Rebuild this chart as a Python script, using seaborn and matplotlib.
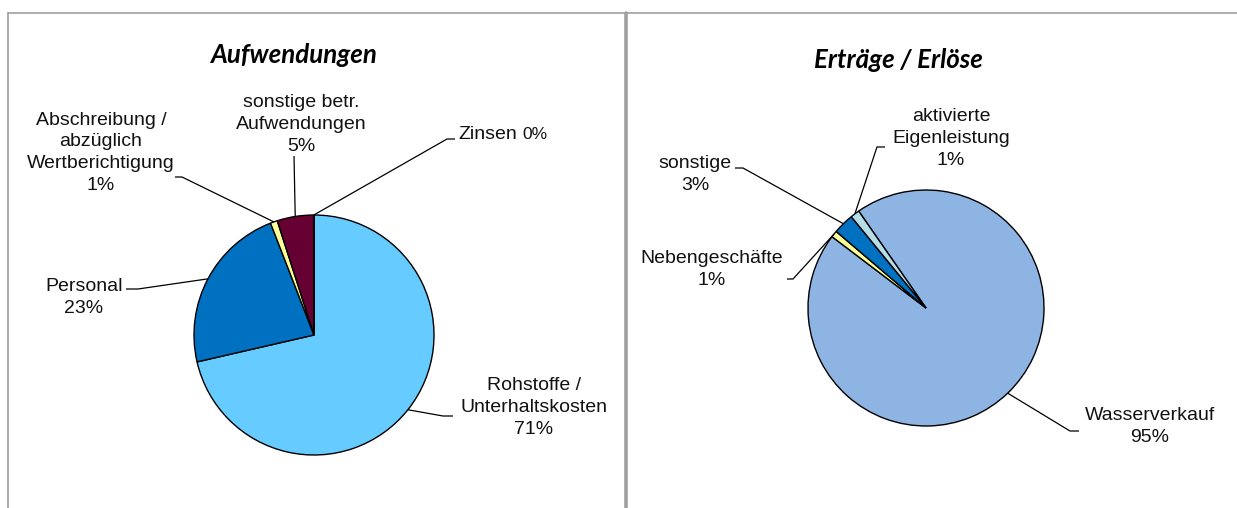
import matplotlib
matplotlib.use("Agg")
import matplotlib.pyplot as plt
import seaborn as sns
import numpy as np

# ---------------- data ----------------
aufw_labels = ["Rohstoffe /\nUnterhaltskosten", "Personal",
               "Abschreibung /\nabzüglich\nWertberichtigung",
               "sonstige betr.\nAufwendungen", "Zinsen"]
aufw_values = [71.4, 22.7, 0.95, 4.9, 0.05]
aufw_pct = ["71%", "23%", "1%", "5%", "0%"]
aufw_colors = ["#66CCFF", "#0070C0", "#FFFF99", "#660033", "#FF9900"]

ertr_labels = ["Wasserverkauf", "Nebengeschäfte", "sonstige",
               "aktivierte\nEigenleistung"]
ertr_values = [95.0, 0.9, 2.85, 1.25]
ertr_pct = ["95%", "1%", "3%", "1%"]
ertr_colors = ["#8EB4E3", "#FFFF99", "#0070C0", "#B7DEE8"]

titles = ["Aufwendungen", "Erträge / Erlöse"]

# ---------------- layout (pixel coords, y from top) ----------------
W, H = 1237, 508
sns.set_theme(style="white")
plt.rcParams['font.family'] = ['Liberation Sans', 'DejaVu Sans']

fig = plt.figure(figsize=(W / 100, H / 100), dpi=100)
ax = fig.add_axes([0, 0, 1, 1])

def Y(py):
    return H - py

LBL_FS = 14
LS = 1.37

# Pie 1
c1 = (314, 335); r1 = 120
w1, _ = ax.pie(aufw_values, colors=aufw_colors, startangle=90, counterclock=False,
               center=(c1[0], Y(c1[1])), radius=r1,
               wedgeprops=dict(edgecolor="black", linewidth=1.0))
# Pie 2
c2 = (926, 308); r2 = 118
w2, _ = ax.pie(ertr_values, colors=ertr_colors, startangle=124.8, counterclock=False,
               center=(c2[0], Y(c2[1])), radius=r2,
               wedgeprops=dict(edgecolor="black", linewidth=1.0))

# leader lines: elbow, end ; label positions (x centre, baseline of last line)
lay1 = [((443, 416), (453, 416), (534, 434)),
        ((138, 289), (126, 289), (84, 313)),
        ((182, 177), (175, 177), (101, 190)),
        ((294, 156), (294, 156), (301, 151)),
        ((447, 139), (455, 139), None)]
lay2 = [((1070, 431), (1079, 431), (1150, 442)),
        ((793, 279), (787, 279), (712, 285)),
        ((743, 168), (735, 168), (695, 190)),
        ((877, 147), (885, 147), (951, 165))]

def anchor(w):
    ang = np.deg2rad((w.theta1 + w.theta2) / 2)
    return w.center[0] + w.r * np.cos(ang), w.center[1] + w.r * np.sin(ang)

def draw_labels(wedges, labels, pcts, lay):
    for w, lab, pct, (elb, end, pos) in zip(wedges, labels, pcts, lay):
        ax_, ay_ = anchor(w)
        ax.plot([ax_, elb[0], end[0]], [ay_, Y(elb[1]), Y(end[1])],
                color="black", lw=0.9, solid_capstyle="butt")
        if pos is not None:
            ax.text(pos[0], Y(pos[1]), lab + "\n" + pct, ha="center", va="baseline",
                    fontsize=LBL_FS, color="#111111", linespacing=LS,
                    multialignment="center")

draw_labels(w1, aufw_labels, aufw_pct, lay1)
draw_labels(w2, ertr_labels, ertr_pct, lay2)
# Zinsen label (percentage slightly smaller)
ax.text(458, Y(139), aufw_labels[4], ha="left", va="baseline", fontsize=LBL_FS, color="#111111")
ax.text(522, Y(139), aufw_pct[4], ha="left", va="baseline", fontsize=12.5, color="#111111")

# titles
tfont = dict(family=['Lato', 'DejaVu Sans'], fontweight="bold", fontstyle="italic",
             fontsize=18.6, color="black", ha="center", va="baseline")
ax.text(293, Y(63), titles[0], **tfont)
ax.text(898, Y(68), titles[1], **tfont)

# panel frames
gray = "#A0A0A0"
ax.plot([8, W], [Y(13), Y(13)], color=gray, lw=1.2)
ax.plot([8, 8], [Y(13), 0], color=gray, lw=1.2)
ax.plot([626, 626], [Y(13), 0], color=gray, lw=2.6)

ax.set_xlim(0, W)
ax.set_ylim(0, H)
ax.set_aspect("equal")
ax.axis("off")

fig.savefig("out.png", dpi=100, facecolor="white")
